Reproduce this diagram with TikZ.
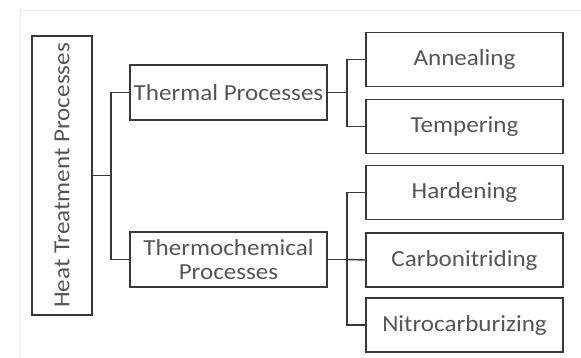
\documentclass[tikz,border=0pt]{standalone}
\usepackage{fontspec}
\setmainfont[FakeStretch=1.09]{Carlito}
\definecolor{txt}{HTML}{555555}
\definecolor{edge}{HTML}{383838}
\begin{document}
\begin{tikzpicture}[x=1pt,y=1pt,
  box/.style={draw=edge,line width=1.8pt,text=txt,font=\fontsize{23}{24.5}\selectfont,
    inner sep=0pt,align=center,minimum width=197pt,minimum height=54pt},
  conn/.style={draw=edge,line width=1.4pt}]
\useasboundingbox (0,0) rectangle (581,358);
\fill[white] (0,0) rectangle (581,358);
\draw[black!8,line width=1pt] (20,0) -- (20,347) -- (581,347);
\node[box,minimum width=60pt,minimum height=279pt] (root) at (62,182.5)
  {\rotatebox{90}{Heat Treatment Processes}};
\node[box,minimum height=55pt] (thermal) at (228.5,265.5) {Thermal Processes};
\node[box,minimum height=55pt] (thermo) at (228.5,98.5) {Thermochemical\\Processes};
\node[box] (anneal) at (464.5,298.5) {Annealing};
\node[box] (temper) at (464.5,231.5) {Tempering};
\node[box] (hard) at (464.5,165.5) {Hardening};
\node[box] (carbo) at (464.5,98) {Carbonitriding};
\node[box] (nitro) at (464.5,33) {Nitrocarburizing};
\coordinate (j1) at (111,182.5);
\coordinate (j2) at (347,265.5);
\coordinate (j3) at (347,98.5);
\draw[conn] (root.east) -- (j1);
\draw[conn] (thermal.west) -| (j1) |- (thermo.west);
\draw[conn] (thermal.east) -- (j2);
\draw[conn] (anneal.west) -| (j2) |- (temper.west);
\draw[conn] (thermo.east) -- (j3);
\draw[conn] (hard.west) -| (j3) |- (nitro.west);
\draw[conn] (j3) -- (carbo.west);
\end{tikzpicture}
\end{document}
